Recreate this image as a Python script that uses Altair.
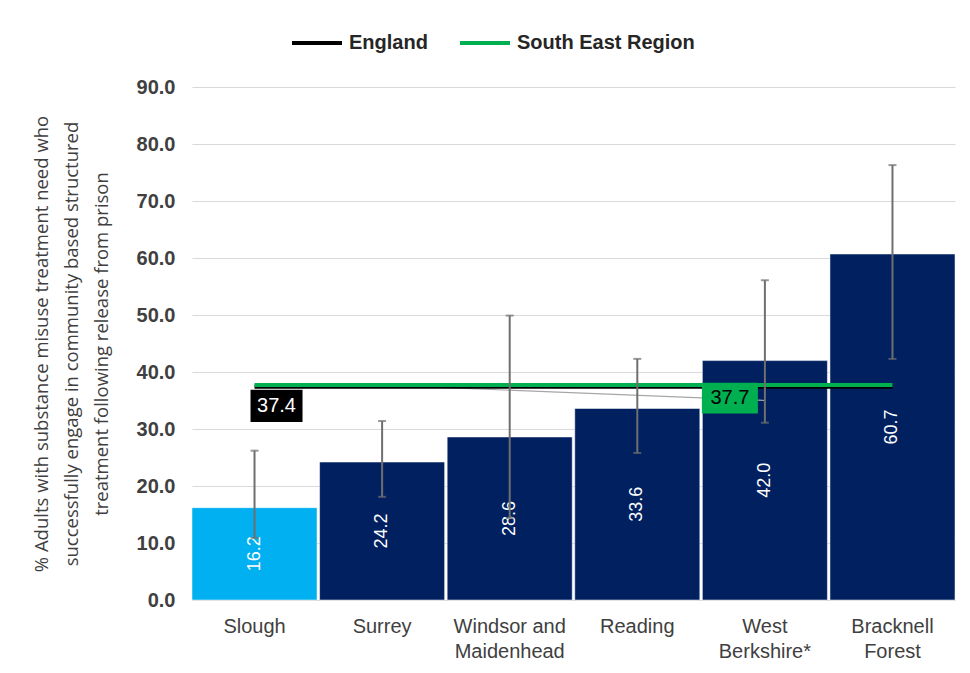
import altair as alt
import pandas as pd

areas = ["Slough", "Surrey", "Windsor and Maidenhead", "Reading", "West Berkshire*", "Bracknell Forest"]
label_lines = [["Slough"], ["Surrey"], ["Windsor and", "Maidenhead"], ["Reading"], ["West", "Berkshire*"], ["Bracknell", "Forest"]]
values = [16.2, 24.2, 28.6, 33.6, 42.0, 60.7]
lower_ci = [10.9, 18.1, 14.4, 25.8, 31.1, 42.3]
upper_ci = [26.2, 31.4, 49.9, 42.3, 56.1, 76.3]
bar_colors = ["#00B0F0", "#002060", "#002060", "#002060", "#002060", "#002060"]
series_names = ["England", "South East Region"]
series_values = [37.4, 37.7]
series_colors = ["#000000", "#00B050"]
y_ticks = [0, 10, 20, 30, 40, 50, 60, 70, 80, 90]
# label leader line (from the region line to the 37.7 label)
leader_areas = ["Surrey", "West Berkshire*"]
leader_values = [37.7, 35.0]

bars = pd.DataFrame({
    "area": areas, "value": values, "half": [v / 2 for v in values],
    "lo": lower_ci, "hi": upper_ci, "color": bar_colors,
    "label": [f"{v:.1f}" for v in values],
})
lines = pd.DataFrame([
    {"area": a, "series": s, "v": v}
    for s, v in zip(series_names, series_values) for a in areas
])
leader_df = pd.DataFrame({"area": leader_areas, "v": leader_values})

expr = ""
for a, ll in zip(areas, label_lines):
    arr = "[" + ",".join("'" + l + "'" for l in ll) + "]"
    expr += f"datum.label == '{a}' ? {arr} : "
expr += "datum.label"

W, H = 763, 513
xs = alt.Scale(domain=areas, paddingInner=0.02, paddingOuter=0.0)
x = alt.X("area:N", scale=xs, title=None,
          axis=alt.Axis(labelAngle=0, labelExpr=expr, labelFont="Liberation Sans",
                        labelFontSize=20, labelColor="#404040", labelPadding=16,
                        labelLineHeight=25, ticks=False, domainColor="#d9d9d9",
                        labelBaseline="top"))
xo = alt.X("area:N", scale=xs)
y = alt.Y("value:Q", scale=alt.Scale(domain=[0, 90], nice=False),
          title=["% Adults with substance misuse treatment need who",
                 "successfully engage in community based structured",
                 "treatment following release from prison"],
          axis=alt.Axis(values=y_ticks, format=".1f", labelFont="Liberation Sans",
                        labelFontSize=20, labelFontWeight="bold", labelColor="#404040",
                        labelPadding=17, ticks=False, domain=False, gridColor="#d9d9d9",
                        titleFont="Open Sans", titleFontSize=18.5, titleFontWeight="normal",
                        titleColor="#404040", titleLineHeight=30, titlePadding=25))

base = alt.Chart(bars)
bar = base.mark_bar(stroke="white", strokeWidth=0.5).encode(
    x=x, y=y, color=alt.Color("color:N", scale=None))
bar_text = base.mark_text(angle=270, color="white", font="Liberation Sans", fontSize=18).encode(
    x=xo, y=alt.Y("half:Q"), text="label:N")

line = alt.Chart(lines).mark_line(strokeWidth=4).encode(
    x=xo, y=alt.Y("v:Q"),
    color=alt.Color("series:N", scale=alt.Scale(domain=series_names, range=series_colors),
                    legend=alt.Legend(title=None, orient="none", legendX=98, legendY=-71,
                                      direction="horizontal", symbolType="stroke",
                                      symbolSize=2500, symbolStrokeWidth=4,
                                      labelFont="Liberation Sans", labelFontSize=20,
                                      labelFontWeight="bold", labelColor="#262626",
                                      labelLimit=400, columnPadding=24, labelOffset=5)))

err = base.mark_rule(color="#6f6f6f", strokeWidth=2).encode(
    x=xo, y=alt.Y("lo:Q"), y2="hi:Q")
cap_lo = base.mark_tick(color="#6f6f6f", thickness=2, size=8).encode(
    x=xo, y=alt.Y("lo:Q"))
cap_hi = base.mark_tick(color="#6f6f6f", thickness=2, size=8).encode(
    x=xo, y=alt.Y("hi:Q"))

leader = alt.Chart(leader_df).mark_line(color="#a6a6a6", strokeWidth=1.2).encode(
    x=xo, y=alt.Y("v:Q"))

lab = pd.DataFrame({"area": ["Slough", "West Berkshire*"], "v": series_values,
                    "text": [f"{v:.1f}" for v in series_values],
                    "fill": ["#000000", "#00B050"]})

box1 = alt.Chart(lab.iloc[[0]]).mark_point(
    shape="M-1,-0.62L1,-0.62L1,0.62L-1,0.62Z", size=2704, filled=True, opacity=1,
    xOffset=22, yOffset=19).encode(
    x=xo, y=alt.Y("v:Q"), color=alt.Color("fill:N", scale=None))
txt1 = alt.Chart(lab.iloc[[0]]).mark_text(font="Liberation Sans", fontSize=20,
                                          dx=22, dy=19, color="white").encode(
    x=xo, y=alt.Y("v:Q"), text="text:N")
box2 = alt.Chart(lab.iloc[[1]]).mark_point(
    shape="M-1,-0.55L1,-0.55L1,0.55L-1,0.55Z", size=3136, filled=True, opacity=1,
    xOffset=-35, yOffset=13).encode(
    x=xo, y=alt.Y("v:Q"), color=alt.Color("fill:N", scale=None))
txt2 = alt.Chart(lab.iloc[[1]]).mark_text(font="Liberation Sans", fontSize=20,
                                          dx=-35, dy=13, color="black").encode(
    x=xo, y=alt.Y("v:Q"), text="text:N")

chart = alt.layer(bar, bar_text, leader, line, err, cap_lo, cap_hi, box1, txt1, box2, txt2).properties(
    width=W, height=H,
    autosize=alt.AutoSizeParams(type="none"),
    padding={"left": 184, "top": 79, "right": 7, "bottom": 66},
).configure_view(stroke=None).configure_axis(grid=True).configure_axisX(grid=False)

chart.save("out.html", embed_options={"renderer": "svg", "actions": False})
